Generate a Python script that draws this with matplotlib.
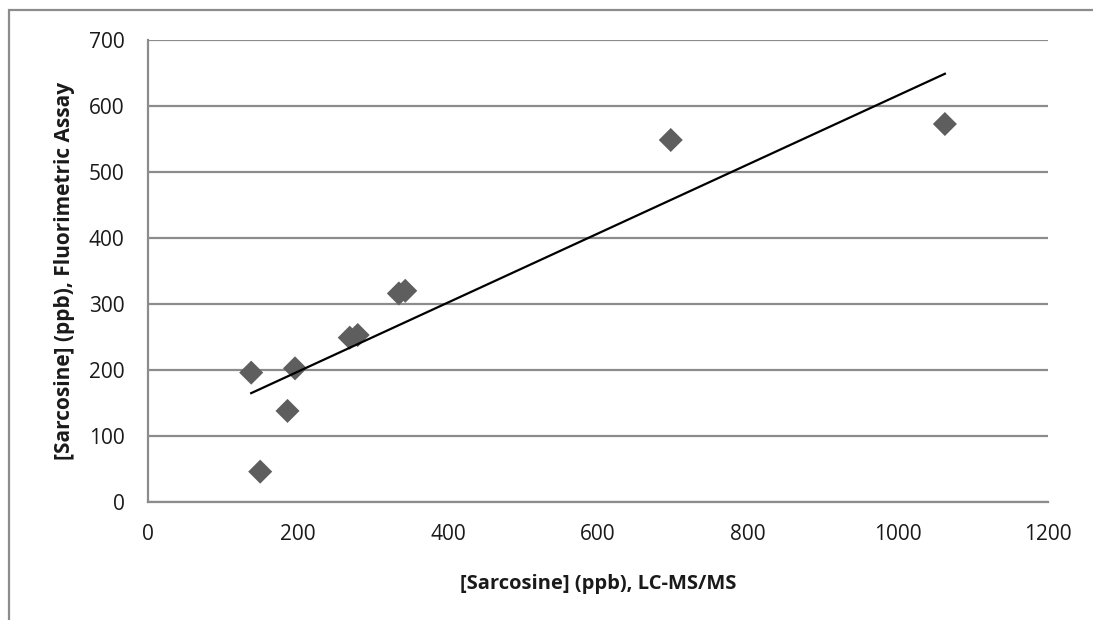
import numpy as np
import matplotlib
matplotlib.use("Agg")
import matplotlib.pyplot as plt
from matplotlib.patches import Rectangle

# Sarcosine concentrations: LC-MS/MS (x) vs fluorimetric assay (y), in ppb
lcms_ppb = [137.6, 149.6, 186.0, 196.0, 269.0, 279.6, 334.5, 343.0, 697.0, 1062.5]
fluor_ppb = [196.0, 46.0, 138.0, 202.5, 249.0, 253.0, 316.0, 320.0, 548.5, 572.7]

x_ticks = [0, 200, 400, 600, 800, 1000, 1200]
y_ticks = [0, 100, 200, 300, 400, 500, 600, 700]

plt.rcParams["font.family"] = ["Open Sans", "DejaVu Sans"]

fig = plt.figure(figsize=(10.93, 6.20), dpi=100)
ax = fig.add_axes([148 / 1093, 1 - 502 / 620, 900 / 1093, 462 / 620])

grid_col = "#8c8c8c"
text_col = "#1a1a1a"

# chart-area frame (left and top edges visible)
fig.patches.append(Rectangle((9 / 1093, -0.05), 1.2, 1 - 10 / 620 + 0.05,
                             transform=fig.transFigure, fill=False,
                             edgecolor=grid_col, linewidth=1.6))

ax.set_xlim(0, 1200)
ax.set_ylim(0, 700)
ax.set_xticks(x_ticks)
ax.set_yticks(y_ticks)
ax.tick_params(length=0, labelsize=15, colors=text_col)
ax.tick_params(axis="x", pad=16)
ax.tick_params(axis="y", pad=17)

ax.grid(axis="y", color=grid_col, linewidth=1.6)
ax.set_axisbelow(True)
for side in ("top", "right"):
    ax.spines[side].set_visible(False)
for side in ("left", "bottom"):
    ax.spines[side].set_color(grid_col)
    ax.spines[side].set_linewidth(1.6)

ax.scatter(lcms_ppb, fluor_ppb, marker="D", s=150, color="#5e5e5e",
           edgecolors="none", zorder=3)

# least-squares trendline spanning the data range
slope, intercept = np.polyfit(lcms_ppb, fluor_ppb, 1)
xs = np.array([min(lcms_ppb), max(lcms_ppb)])
ax.plot(xs, slope * xs + intercept, color="black", linewidth=1.6, zorder=4)

ax.set_xlabel("[Sarcosine] (ppb), LC-MS/MS", fontsize=14.5, fontweight="bold",
              color=text_col, labelpad=21)
ax.set_ylabel("[Sarcosine] (ppb), Fluorimetric Assay", fontsize=15,
              fontweight="bold", color=text_col, labelpad=10)

fig.savefig("out.png", dpi=100, facecolor="white")
